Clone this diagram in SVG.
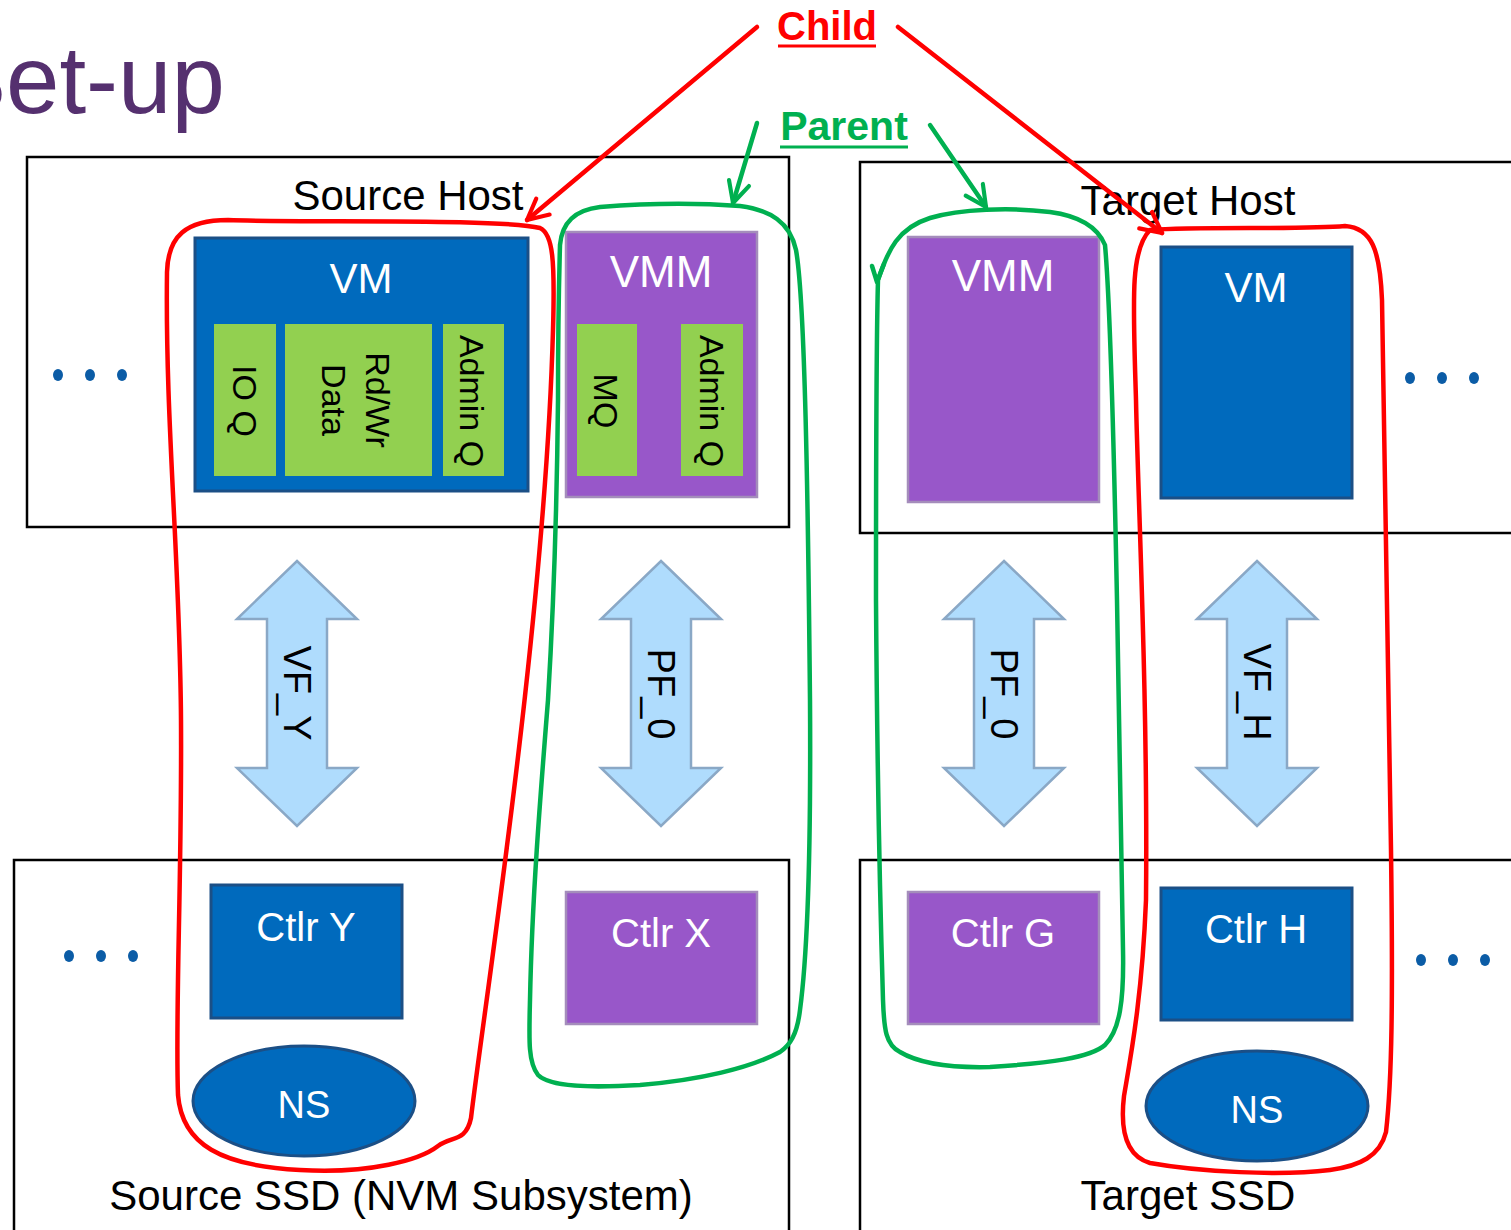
<svg xmlns="http://www.w3.org/2000/svg" width="1511" height="1230" viewBox="0 0 1511 1230">
<style>
text{font-family:"Liberation Sans",Arial,sans-serif}
.frame{fill:none;stroke:#000;stroke-width:2.5}
.lbl{font-size:42px;fill:#000;text-anchor:middle}
.blue{fill:#006ABD;stroke:#1B4F86;stroke-width:3}
.purple{fill:#9857C9;stroke:#A48DBB;stroke-width:2.5}
.green{fill:#92D050}
.wt{fill:#fff;text-anchor:middle}
.rt{font-size:34px;fill:#000;text-anchor:middle}
.at{font-size:38px;fill:#000;text-anchor:middle}
.dot{fill:#0B5CA6}
.red{fill:none;stroke:#FF0000;stroke-width:4.5;stroke-linejoin:round;stroke-linecap:round}
.grn{fill:none;stroke:#00B050;stroke-width:4.5;stroke-linejoin:round;stroke-linecap:round}
.dbl{fill:#AFDCFD;stroke:#8AA8C6;stroke-width:2.5}
</style>
<defs>
<path id="dblArrow" class="dbl" d="M0,561 L60,619 L30,619 L30,768 L60,768 L0,826 L-60,768 L-30,768 L-30,619 L-60,619 Z"/>
<marker id="mRed" viewBox="0 0 20 20" refX="18" refY="10" markerWidth="26" markerHeight="26" markerUnits="userSpaceOnUse" orient="auto">
<path d="M2,2 L18,10 L2,18" fill="none" stroke="#FF0000" stroke-width="3.2" stroke-linecap="round" stroke-linejoin="round"/>
</marker>
<marker id="mGrn" viewBox="0 0 20 20" refX="18" refY="10" markerWidth="26" markerHeight="26" markerUnits="userSpaceOnUse" orient="auto">
<path d="M2,2 L18,10 L2,18" fill="none" stroke="#00B050" stroke-width="3.2" stroke-linecap="round" stroke-linejoin="round"/>
</marker>
</defs>
<rect width="1511" height="1230" fill="#fff"/>
<text x="-58" y="113" font-size="96" fill="#55306F">Set-up</text>

<g id="source-host">
<rect class="frame" x="27" y="157" width="762" height="370"/>
<text class="lbl" x="408" y="210">Source Host</text>
<ellipse class="dot" cx="58" cy="375" rx="5" ry="6"/><ellipse class="dot" cx="90" cy="375" rx="5" ry="6"/><ellipse class="dot" cx="122" cy="375" rx="5" ry="6"/>
</g>
<g id="target-host">
<rect class="frame" x="860" y="162" width="660" height="371"/>
<text class="lbl" x="1188" y="215">Target Host</text>
<ellipse class="dot" cx="1410" cy="378" rx="5" ry="6"/><ellipse class="dot" cx="1442" cy="378" rx="5" ry="6"/><ellipse class="dot" cx="1474" cy="378" rx="5" ry="6"/>
</g>
<g id="source-ssd">
<rect class="frame" x="14" y="860" width="775" height="380"/>
<text class="lbl" x="401" y="1210" font-size="40.5">Source SSD (NVM Subsystem)</text>
<ellipse class="dot" cx="69" cy="956" rx="5" ry="6"/><ellipse class="dot" cx="101" cy="956" rx="5" ry="6"/><ellipse class="dot" cx="133" cy="956" rx="5" ry="6"/>
</g>
<g id="target-ssd">
<rect class="frame" x="860" y="860" width="660" height="380"/>
<text class="lbl" x="1188" y="1210" font-size="39">Target SSD</text>
<ellipse class="dot" cx="1421" cy="960" rx="5" ry="6"/><ellipse class="dot" cx="1453" cy="960" rx="5" ry="6"/><ellipse class="dot" cx="1485" cy="960" rx="5" ry="6"/>
</g>

<g id="src-vm">
<rect class="blue" x="195" y="238" width="333" height="253"/>
<text class="wt" x="361" y="293" font-size="42">VM</text>
<rect class="green" x="214" y="324" width="62" height="152"/>
<rect class="green" x="285" y="324" width="147" height="152"/>
<rect class="green" x="443" y="324" width="61" height="152"/>
<text class="rt" transform="translate(245,401) rotate(90)" x="0" y="12">IO Q</text>
<text class="rt" transform="translate(356,400) rotate(90)" x="0" y="-10">Rd/Wr</text>
<text class="rt" transform="translate(356,400) rotate(90)" x="0" y="34">Data</text>
<text class="rt" transform="translate(472,401) rotate(90)" x="0" y="12">Admin Q</text>
</g>
<g id="src-vmm">
<rect class="purple" x="566" y="232" width="191" height="265"/>
<text class="wt" x="661" y="287" font-size="44">VMM</text>
<rect class="green" x="577" y="324" width="60" height="152"/>
<rect class="green" x="681" y="324" width="62" height="152"/>
<text class="rt" transform="translate(606,401) rotate(90)" x="0" y="12">MQ</text>
<text class="rt" transform="translate(712,401) rotate(90)" x="0" y="12">Admin Q</text>
</g>
<g id="tgt-vmm">
<rect class="purple" x="908" y="237" width="191" height="265"/>
<text class="wt" x="1003" y="291" font-size="44">VMM</text>
</g>
<g id="tgt-vm">
<rect class="blue" x="1161" y="247" width="191" height="251"/>
<text class="wt" x="1256" y="302" font-size="42">VM</text>
</g>

<g id="vf-y">
<use href="#dblArrow" transform="translate(297,0)"/>
<text class="at" transform="translate(297,693) rotate(90)" x="0" y="13">VF_Y</text>
</g>
<g id="pf0-src">
<use href="#dblArrow" transform="translate(661,0)"/>
<text class="at" transform="translate(661,694) rotate(90)" x="0" y="13">PF_0</text>
</g>
<g id="pf0-tgt">
<use href="#dblArrow" transform="translate(1004,0)"/>
<text class="at" transform="translate(1004,694) rotate(90)" x="0" y="13">PF_0</text>
</g>
<g id="vf-h">
<use href="#dblArrow" transform="translate(1257,0)"/>
<text class="at" transform="translate(1257,692) rotate(90)" x="0" y="13">VF_H</text>
</g>

<g id="ctlr-y">
<rect class="blue" x="211" y="885" width="191" height="133"/>
<text class="wt" x="306" y="941" font-size="40">Ctlr Y</text>
</g>
<g id="ctlr-x">
<rect class="purple" x="566" y="892" width="191" height="132"/>
<text class="wt" x="661" y="947" font-size="40">Ctlr X</text>
</g>
<g id="ctlr-g">
<rect class="purple" x="908" y="892" width="191" height="132"/>
<text class="wt" x="1003" y="947" font-size="40">Ctlr G</text>
</g>
<g id="ctlr-h">
<rect class="blue" x="1161" y="888" width="191" height="132"/>
<text class="wt" x="1256" y="943" font-size="40">Ctlr H</text>
</g>
<g id="ns-src">
<ellipse class="blue" cx="304" cy="1101" rx="111" ry="55"/>
<text class="wt" x="304" y="1118" font-size="38">NS</text>
</g>
<g id="ns-tgt">
<ellipse class="blue" cx="1257" cy="1106" rx="111" ry="55"/>
<text class="wt" x="1257" y="1123" font-size="38">NS</text>
</g>

<g id="child-label">
<text x="827" y="40" font-size="40" font-weight="bold" fill="#FF0000" text-anchor="middle">Child</text>
<line x1="778" y1="46" x2="876" y2="46" stroke="#FF0000" stroke-width="3"/>
</g>
<g id="parent-label">
<text x="844" y="140" font-size="41" font-weight="bold" fill="#00B050" text-anchor="middle">Parent</text>
<line x1="780" y1="147" x2="908" y2="147" stroke="#00B050" stroke-width="3"/>
</g>

<g id="child-src-loop">
<path class="red" d="M540,228 C500,218 300,223 228,220 C186,220 168,236 167,272 C165,420 180,560 181,720 C182,880 175,1010 178,1095 C182,1145 222,1166 300,1170 C370,1174 420,1160 438,1146 C452,1136 466,1142 471,1118 C485,1000 545,620 553,330 C555,260 553,234 540,228 Z"/>
</g>
<g id="child-tgt-loop">
<path class="red" d="M1150,230 C1200,226 1300,230 1345,226 C1372,228 1380,250 1382,300 C1386,450 1388,600 1391,850 C1393,1000 1392,1080 1386,1132 C1380,1156 1360,1166 1330,1170 C1280,1176 1200,1172 1150,1163 C1126,1156 1120,1130 1124,1096 C1130,1060 1142,1000 1146,900 C1148,700 1138,500 1136,400 C1133,300 1130,250 1150,230 Z"/>
</g>
<g id="parent-src-loop">
<path class="grn" d="M560,245 C562,222 575,210 600,207 C650,203 700,203 740,206 C770,210 790,222 796,250 C805,300 808,500 810,700 C811,850 808,950 800,1010 C797,1035 790,1045 780,1052 C750,1068 700,1080 640,1085 C590,1088 550,1087 538,1075 C528,1062 529,1040 530,1000 C532,900 540,800 548,700 C554,600 557,500 558,400 C558,330 559,280 560,245 Z"/>
</g>
<g id="parent-tgt-loop">
<path class="grn" d="M878,280 C888,250 898,228 930,218 C960,209 1010,207 1050,212 C1080,216 1098,228 1105,245 C1110,300 1114,450 1117,600 C1120,750 1122,850 1123,950 C1124,1000 1120,1030 1105,1045 C1090,1058 1050,1063 990,1067 C950,1068 920,1064 900,1052 C886,1045 884,1030 883,1000 C880,900 877,750 876,600 C876,450 876,350 878,280 Z"/>
<path class="grn" stroke-width="3.5" d="M872,266 L877,282 L884,264"/>
</g>

<g id="connectors">
<line class="red" x1="757" y1="27" x2="527" y2="220" marker-end="url(#mRed)"/>
<line class="red" x1="898" y1="27" x2="1162" y2="233" marker-end="url(#mRed)"/>
<line class="grn" x1="757" y1="123" x2="733" y2="203" marker-end="url(#mGrn)"/>
<line class="grn" x1="930" y1="125" x2="986" y2="207" marker-end="url(#mGrn)"/>
</g>
</svg>
